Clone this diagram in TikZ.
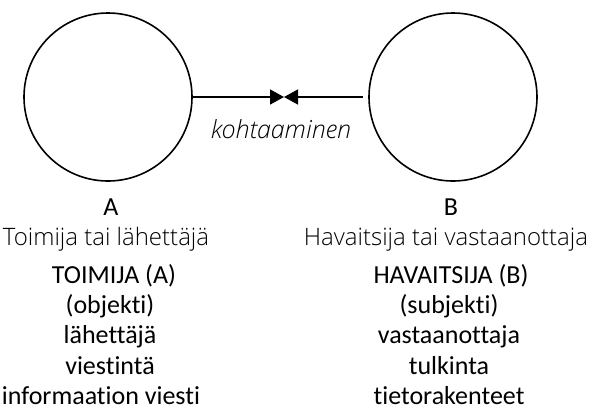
\documentclass[tikz,border=0pt]{standalone}
\usepackage{fontspec}
\setmainfont{Carlito}[Ligatures={NoCommon,NoContextual}]
\newfontfamily\lightfont{Open Sans Light}
\usetikzlibrary{arrows.meta}
\tikzset{
  party/.style={circle, draw, line width=1.6bp, minimum size=168bp, inner sep=0pt},
  link/.style={line width=1.6bp, -{Triangle[length=14bp,width=15bp]}},
  keyline/.style={anchor=base, inner sep=0pt, font=\fontsize{26bp}{30bp}\selectfont},
  subline/.style={anchor=base, inner sep=0pt, font=\lightfont\fontsize{24bp}{28bp}\selectfont},
}
\begin{document}
\begin{tikzpicture}[x=1bp, y=-1bp]
  \useasboundingbox (0,0) rectangle (592,411);
  % the two parties
  \node[party] (A) at (108,97) {};
  \node[party] (B) at (453,97) {};
  % meeting point of the two arrows
  \coordinate (meet) at (284,97);
  \coordinate (Bend) at (363,97);
  \draw[link] (A.east) -- (meet);
  \draw[link] (Bend) -- (meet);
  \node[subline, font=\lightfont\itshape\fontsize{25bp}{28bp}\selectfont] (kohtaaminen) at (281,138) {kohtaaminen};
  % left column
  \node[keyline] (la) at (111,215) {A};
  \node[subline] (lsub) at (106,245) {Toimija tai lähettäjä};
  \node[keyline] (l1) at (114,283) {TOIMIJA (A)};
  \node[keyline] (l2) at (110,313) {(objekti)};
  \node[keyline] (l3) at (110,343) {lähettäjä};
  \node[keyline] (l4) at (110,374) {viestintä};
  \node[keyline] (l5) at (101,404) {informaation viesti};
  % right column
  \node[keyline] (rb) at (451,215) {B};
  \node[subline] (rsub) at (446,245) {Havaitsija tai vastaanottaja};
  \node[keyline] (r1) at (451,283) {HAVAITSIJA (B)};
  \node[keyline] (r2) at (449,313) {(subjekti)};
  \node[keyline] (r3) at (449,343) {vastaanottaja};
  \node[keyline] (r4) at (449,374) {tulkinta};
  \node[keyline] (r5) at (449,404) {tietorakenteet};
\end{tikzpicture}
\end{document}
